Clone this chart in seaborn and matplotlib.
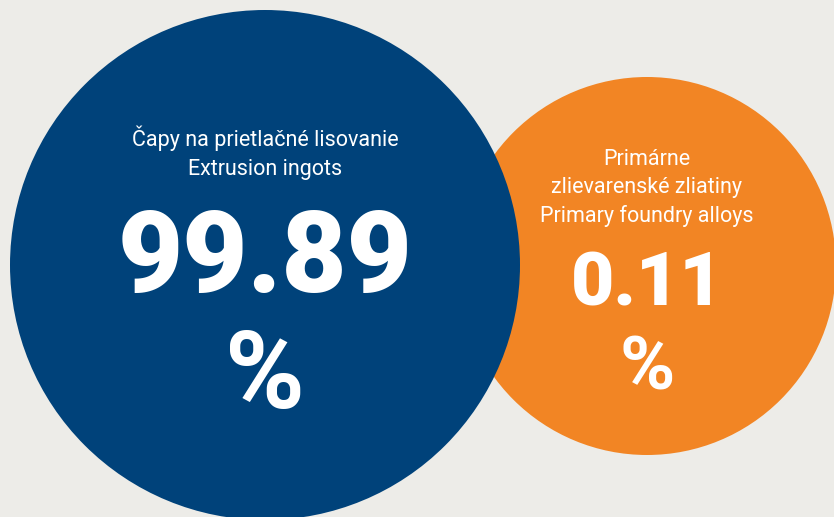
import matplotlib as mpl
mpl.use('Agg')
import matplotlib.pyplot as plt
import seaborn as sns
from matplotlib.patches import Circle

# data
categories = ["Čapy na prietlačné lisovanie\nExtrusion ingots",
              "Primárne\nzlievarenské zliatiny\nPrimary foundry alloys"]
shares = [99.89, 0.11]
colors = ["#00427a", "#f28524"]

# layout (pixels, y down)
centers = [(265, 265), (647, 266)]
radii = [255, 189]
label_y = [[146, 175], [165, 193, 222]]
value_y = [292, 305]
pct_y = [408, 390]
value_size = [81, 54]
pct_size = [78, 54]

sns.set_theme(style="white")
plt.rcParams['font.family'] = ['Roboto', 'DejaVu Sans']

fig = plt.figure(figsize=(8.34, 5.17), dpi=100)
fig.patch.set_facecolor("#edece8")
ax = fig.add_axes([0, 0, 1, 1])
ax.set_facecolor("#edece8")
ax.set_xlim(0, 834)
ax.set_ylim(517, 0)
ax.set_aspect('equal')
ax.axis('off')

# orange drawn first, blue overlaps it
for i in [1, 0]:
    cx, cy = centers[i]
    ax.add_patch(Circle((cx, cy), radii[i], color=colors[i], lw=0, zorder=1 + (1 - i)))

for i in range(2):
    cx = centers[i][0]
    for line, y in zip(categories[i].split("\n"), label_y[i]):
        ax.text(cx, y, line, ha='center', va='baseline', color='white',
                fontsize=15.5, zorder=5)
    ax.text(cx, value_y[i], f"{shares[i]:.2f}", ha='center', va='baseline',
            color='white', fontsize=value_size[i], fontweight='black', zorder=5)
    ax.text(cx, pct_y[i], "%", ha='center', va='baseline', color='white',
            fontsize=pct_size[i], fontweight='bold', zorder=5)

fig.savefig("out.png", dpi=100, facecolor=fig.get_facecolor())
